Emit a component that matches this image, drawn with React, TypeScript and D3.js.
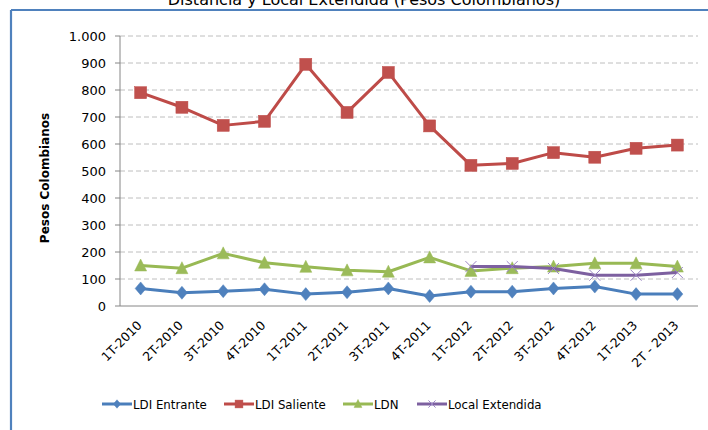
import React from "react";
import * as d3 from "d3";

const categories = ["1T-2010","2T-2010","3T-2010","4T-2010","1T-2011","2T-2011","3T-2011","4T-2011","1T-2012","2T-2012","3T-2012","4T-2012","1T-2013","2T - 2013"];
const ldiEntrante = [65, 49, 55, 62, 44, 51, 65, 37, 53, 53, 65, 72, 44, 44];
const ldiSaliente = [790, 736, 669, 684, 895, 717, 865, 667, 521, 528, 568, 551, 584, 596];
const ldn = [150, 140, 195, 160, 145, 132, 127, 180, 130, 140, 146, 158, 158, 146];
const localExtendida: (number | null)[] = [null, null, null, null, null, null, null, null, 146, 146, 139, 114, 114, 124];
const yTicks = [0, 100, 200, 300, 400, 500, 600, 700, 800, 900, 1000];
const seriesNames = ["LDI Entrante", "LDI Saliente", "LDN", "Local Extendida"];
const seriesColors = ["#4A7EBB", "#BE4B48", "#98B954", "#7D60A0"];
const markerFill = ["#4F81BD", "#C0504D", "#9BBB59", "#8064A2"];

const W = 708, H = 430;
const left = 120, right = 698, top = 36, bottom = 306;

function marker(kind: number, x: number, y: number, s = 1, key?: string) {
  const c = markerFill[kind];
  if (kind === 0) {
    const hw = 5.5 * s, hh = 6.5 * s;
    return <path key={key} d={`M${x},${y - hh}L${x + hw},${y}L${x},${y + hh}L${x - hw},${y}Z`} fill={c} stroke={c} strokeWidth={0.5} />;
  }
  if (kind === 1) {
    const h = 6 * s;
    return <rect key={key} x={x - h} y={y - h} width={2 * h} height={2 * h} fill={c} stroke={seriesColors[1]} strokeWidth={0.5} />;
  }
  if (kind === 2) {
    const hw = 6 * s, hh = 5.5 * s;
    return <path key={key} d={`M${x},${y - hh - 1}L${x + hw},${y + hh}L${x - hw},${y + hh}Z`} fill={c} stroke={c} strokeWidth={0.5} />;
  }
  const h = 5.5 * s;
  return (
    <g key={key} stroke="#9B84C4" strokeWidth={1}>
      <line x1={x - h} y1={y - h} x2={x + h} y2={y + h} />
      <line x1={x - h} y1={y + h} x2={x + h} y2={y - h} />
    </g>
  );
}

export default function App() {
  const x = d3.scaleBand<string>().domain(categories).range([left, right]);
  const y = d3.scaleLinear().domain([0, 1000]).range([bottom, top]);
  const cx = (c: string) => (x(c) as number) + x.bandwidth() / 2;
  const fmt = (v: number) => (v >= 1000 ? d3.format(",")(v).replace(",", ".") : String(v));

  const all = [ldiEntrante, ldiSaliente, ldn, localExtendida] as (number | null)[][];
  const line = d3
    .line<{ c: string; v: number | null }>()
    .defined((d) => d.v !== null)
    .x((d) => cx(d.c))
    .y((d) => y(d.v as number));

  const legendX = [102, 224, 343, 417];

  return (
    <svg width={W} height={H} style={{ position: "absolute", left: 0, top: 0, background: "#fff" }}>
      <text x={364} y={5} textAnchor="middle" fontFamily="DejaVu Sans, sans-serif" fontSize={16} fill="#000">
        Distancia y Local Extendida (Pesos Colombianos)
      </text>
      {/* frame */}
      <line x1={11} y1={10} x2={W} y2={10} stroke="#4F81BD" strokeWidth={2.2} />
      <line x1={11} y1={10} x2={11} y2={H} stroke="#4F81BD" strokeWidth={2.2} />

      {/* grid */}
      {yTicks.filter((t) => t > 0).map((t) => (
        <line key={t} x1={left} x2={right} y1={y(t)} y2={y(t)} stroke="#BEBEBE" strokeWidth={1} strokeDasharray="5,3" />
      ))}
      {yTicks.map((t) => (
        <g key={"t" + t}>
          <line x1={left - 5} x2={left} y1={y(t)} y2={y(t)} stroke="#868686" />
          <text x={106} y={y(t) + 4.5} textAnchor="end" fontFamily="DejaVu Sans, sans-serif" fontSize={13} fill="#000">
            {fmt(t)}
          </text>
        </g>
      ))}
      <line x1={left} x2={left} y1={top} y2={bottom} stroke="#868686" strokeWidth={1} />
      <line x1={left} x2={right} y1={bottom} y2={bottom} stroke="#868686" strokeWidth={1} />

      <text transform={`translate(49,${(top + bottom) / 2 + 7}) rotate(-90)`} textAnchor="middle" fontFamily="DejaVu Sans, sans-serif" fontWeight="bold" fontSize={12} fill="#000">
        Pesos Colombianos
      </text>

      {categories.map((c) => (
        <text key={c} transform={`translate(${cx(c) + 2},${bottom + 20}) rotate(-45)`} textAnchor="end" fontFamily="DejaVu Sans, sans-serif" fontSize={12.5} fill="#000">
          {c}
        </text>
      ))}

      {all.map((vals, i) => {
        const data = categories.map((c, j) => ({ c, v: vals[j] }));
        return (
          <g key={i}>
            <path d={line(data) || ""} fill="none" stroke={seriesColors[i]} strokeWidth={3} strokeLinejoin="round" />
            {data.filter((d) => d.v !== null).map((d, j) => marker(i, cx(d.c), y(d.v as number), 1, `${i}-${j}`))}
          </g>
        );
      })}

      {seriesNames.map((n, i) => (
        <g key={n}>
          <line x1={legendX[i]} x2={legendX[i] + 30} y1={404} y2={404} stroke={seriesColors[i]} strokeWidth={3} />
          {marker(i, legendX[i] + 15, 404, 0.65)}
          <text x={legendX[i] + 31} y={408.5} fontFamily="DejaVu Sans, sans-serif" fontSize={11.8} fill="#000">
            {n}
          </text>
        </g>
      ))}
    </svg>
  );
}
